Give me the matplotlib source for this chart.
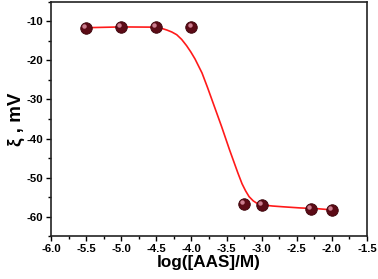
import matplotlib
matplotlib.use("Agg")
import matplotlib.pyplot as plt
import matplotlib.transforms as mtransforms
from matplotlib.ticker import MultipleLocator

plt.rcParams['font.family'] = ['Liberation Sans', 'DejaVu Sans']
plt.rcParams['font.weight'] = 'bold'

# measured points
log_c = [-5.5, -5.0, -4.5, -4.0, -3.25, -3.0, -2.3, -2.0]
zeta = [-11.6, -11.4, -11.4, -11.5, -56.9, -57.1, -58.1, -58.4]

# fitted curve
fit_x = [-5.5, -5.0, -4.6, -4.5, -4.42, -4.35, -4.28, -4.21, -4.14, -4.07, -4.01,
         -3.95, -3.85, -3.77, -3.69, -3.57, -3.46, -3.40, -3.34, -3.28, -3.23,
         -3.18, -3.12, -3.06, -3.0, -2.85, -2.7, -2.45, -2.2, -2.0]
fit_y = [-11.6, -11.4, -11.45, -11.55, -11.8, -12.2, -12.7, -13.4, -14.6, -16.2, -17.8,
         -19.6, -23.2, -27.0, -31.0, -37.0, -42.8, -45.8, -48.8, -51.6, -53.4,
         -54.9, -56.0, -56.7, -57.0, -57.3, -57.5, -57.8, -58.0, -58.3]

fig = plt.figure(figsize=(3.78, 2.79), dpi=100)
ax = fig.add_axes([0.135, 0.154, 0.836, 0.839])

ax.plot(fit_x, fit_y, color='#ff1a1a', linewidth=1.2, zorder=2)

# ball markers: dark body + small highlight
ax.plot(log_c, zeta, linestyle='none', marker='o', markersize=8.3,
        markerfacecolor='#5c0b16', markeredgecolor='#3a0309', markeredgewidth=0.6, zorder=3)
shift = mtransforms.ScaledTranslation(-1.4 / 72, 1.4 / 72, fig.dpi_scale_trans)
ax.plot(log_c, zeta, linestyle='none', marker='o', markersize=3.2,
        markerfacecolor='#d88a9c', markeredgecolor='none', alpha=0.9,
        transform=ax.transData + shift, zorder=4)

ax.set_xlim(-6.0, -1.5)
ax.set_ylim(-65, -5)
ax.xaxis.set_minor_locator(MultipleLocator(0.25))
ax.yaxis.set_minor_locator(MultipleLocator(5))
ax.set_xticks([-6.0, -5.5, -5.0, -4.5, -4.0, -3.5, -3.0, -2.5, -2.0, -1.5])
ax.set_xticklabels(['-6.0', '-5.5', '-5.0', '-4.5', '-4.0', '-3.5', '-3.0', '-2.5', '-2.0', '-1.5'])
ax.set_yticks([-60, -50, -40, -30, -20, -10])
ax.set_yticklabels(['-60', '-50', '-40', '-30', '-20', '-10'])

ax.tick_params(which='both', direction='out', top=False, right=False,
               labelsize=8.2, width=1.0, pad=2)
ax.tick_params(which='major', length=3.5)
ax.tick_params(which='minor', length=2)
for s in ax.spines.values():
    s.set_linewidth(1.2)
    s.set_color('#222222')

ax.set_xlabel("log([AAS]/M)", fontsize=12.3, fontweight='bold', labelpad=1)
ax.set_ylabel("ξ , mV", fontsize=13.5, fontweight='bold', labelpad=1)

fig.savefig("out.png", dpi=100)
print("process completed")
